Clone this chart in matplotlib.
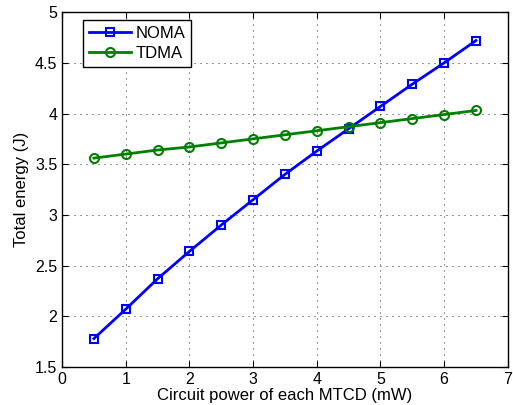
import numpy as np
import matplotlib
matplotlib.use('Agg')
import matplotlib.pyplot as plt

plt.rcParams['font.family'] = ['Liberation Sans', 'DejaVu Sans']

circuit_power = [0.5, 1.0, 1.5, 2.0, 2.5, 3.0, 3.5, 4.0, 4.5, 5.0, 5.5, 6.0, 6.5]
noma_energy = [1.78, 2.07, 2.37, 2.64, 2.90, 3.15, 3.40, 3.63, 3.85, 4.07, 4.29, 4.50, 4.72]
tdma_energy = [3.56, 3.60, 3.64, 3.67, 3.71, 3.75, 3.79, 3.83, 3.87, 3.91, 3.95, 3.99, 4.03]

fig = plt.figure(figsize=(5.13, 4.05), dpi=100)
ax = fig.add_axes([0.121, 0.094, 0.869, 0.876])

ax.plot(circuit_power, noma_energy, '-s', color='#0000ff', lw=2, ms=5.5,
        mfc='none', mew=1.5, label='NOMA')
ax.plot(circuit_power, tdma_energy, '-o', color='#007f00', lw=2, ms=6.5,
        mfc='none', mew=1.5, label='TDMA')

ax.set_xlim(0, 7)
ax.set_ylim(1.5, 5)
ax.set_xticks(np.arange(0, 8, 1))
ax.set_yticks(np.arange(1.5, 5.01, 0.5))
ax.set_yticklabels(['1.5', '2', '2.5', '3', '3.5', '4', '4.5', '5'])
ax.grid(True, linestyle=(0, (1.2, 6)), color='k', lw=0.6)
ax.tick_params(direction='in', labelsize=11.5, top=True, right=True, length=4)
for s in ax.spines.values():
    s.set_linewidth(1.0)

ax.set_xlabel('Circuit power of each MTCD (mW)', fontsize=12, labelpad=1)
ax.set_ylabel('Total energy (J)', fontsize=12, labelpad=4)

leg = ax.legend(loc='upper left', bbox_to_anchor=(0.047, 0.977), fontsize=12,
                fancybox=False, edgecolor='k', framealpha=1,
                handlelength=2.5, handletextpad=0.3, borderpad=0.35,
                labelspacing=0.3, borderaxespad=0)
leg.get_frame().set_linewidth(1.0)

fig.savefig('out.png', dpi=100)
